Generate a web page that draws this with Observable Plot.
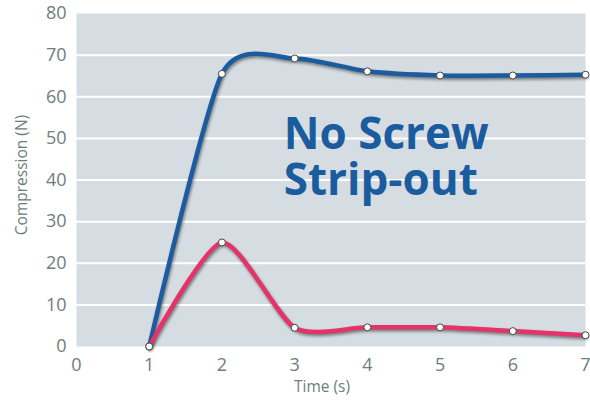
<!DOCTYPE html>
<html><head><meta charset="utf-8">
<script src="https://cdn.jsdelivr.net/npm/d3@7"></script>
<script src="https://cdn.jsdelivr.net/npm/@observablehq/plot@0.6"></script>
<style>
body{margin:0;background:#fff;}
#chart svg g[aria-label="line"] path{filter:drop-shadow(1px 2px 1.5px rgba(0,0,0,0.45));}
</style>
</head><body><div id="chart"></div>
<script>
const times = [1, 2, 3, 4, 5, 6, 7];
const screwValues = [0, 65.5, 69.2, 66.1, 65.1, 65.1, 65.3];
const stripValues = [0, 25, 4.5, 4.6, 4.6, 3.7, 2.7];
const xTicks = [0, 1, 2, 3, 4, 5, 6, 7];
const yTicks = [0, 10, 20, 30, 40, 50, 60, 70, 80];
const gridTicks = [10, 20, 30, 40, 50, 60, 70];
const annotationLines = ["No Screw", "Strip-out"];

const blue = times.map((t, i) => ({t, v: screwValues[i]}));
const pink = times.map((t, i) => ({t, v: stripValues[i]}));

const gray = "#6f7d7d";
const chart = Plot.plot({
  width: 590, height: 400,
  marginLeft: 76, marginRight: 5, marginTop: 13, marginBottom: 54,
  style: {fontFamily: "Open Sans, sans-serif", background: "#fff"},
  x: {domain: [0, 7]},
  y: {domain: [0, 80]},
  marks: [
    Plot.frame({fill: "#d5dde2", stroke: null, inset: 0}),
    Plot.ruleY(gridTicks, {stroke: "#fff", strokeWidth: 2}),
    Plot.axisY(yTicks, {tickSize: 0, tickPadding: 10, fontSize: 18, fill: gray, label: null}),
    Plot.axisX(xTicks, {tickSize: 0, tickPadding: 12, fontSize: 18, fill: gray, label: null}),
    Plot.text(["Compression (N)"], {frameAnchor: "left", textAnchor: "middle", dx: -54, dy: -5, rotate: -90, fontSize: 15.5, fill: gray}),
    Plot.text(["Time (s)"], {frameAnchor: "bottom", dy: 45, fontSize: 15.5, fill: gray, dx: -9}),
    Plot.line(blue, {x: "t", y: "v", stroke: "#1b5c9e", strokeWidth: 4.5, curve: "cardinal", tension: 0.3}),
    Plot.line(pink, {x: "t", y: "v", stroke: "#e5336a", strokeWidth: 4.5, curve: "cardinal", tension: 0.3}),
    Plot.dot(blue, {x: "t", y: "v", r: 3.5, fill: "#fff", stroke: "#444", strokeWidth: 1}),
    Plot.dot(pink, {x: "t", y: "v", r: 3.5, fill: "#fff", stroke: "#444", strokeWidth: 1}),
    Plot.text([annotationLines.join("\n")], {x: 2.85, y: 45.4, textAnchor: "start", lineHeight: 1.03, fontSize: 44, fontWeight: 700, fill: "#1b5c9e"})
  ]
});
document.getElementById("chart").append(chart);
</script></body></html>
